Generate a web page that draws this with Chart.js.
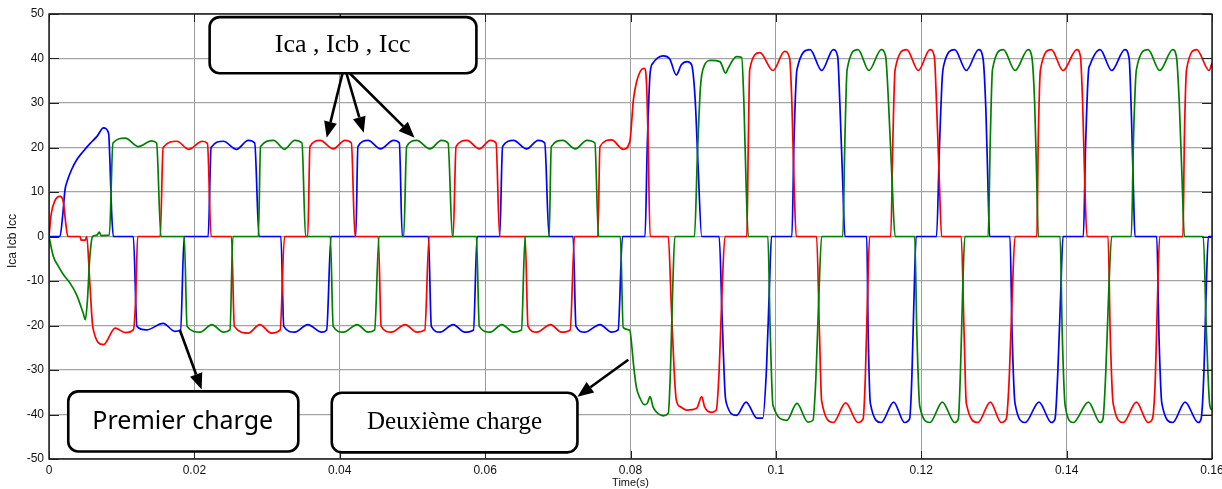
<!DOCTYPE html>
<html>
<head>
<meta charset="utf-8">
<script src="https://cdn.jsdelivr.net/npm/chart.js@4/dist/chart.umd.min.js"></script>
<style>
  html, body { margin: 0; padding: 0; background: #fff; }
  #wrap { width: 1222px; height: 489px; }
</style>
</head>
<body>
<div id="wrap"><canvas id="courants" width="1222" height="489"></canvas></div>
<script>
// temps en ms, courant en A
const tickX = [0, 20, 40, 60, 80, 100, 120, 140, 160];
const tickY = [-50, -40, -30, -20, -10, 0, 10, 20, 30, 40, 50];

// phase rouge
const ica = [
  [0,0],[0.3,5],[0.8,8],[1.5,9],[2.0,7.5],[2.3,3],[2.6,0],[4.3,0],[4.4,-0.8],[5.0,-0.8],[5.2,0],[5.6,-10],[6.05,-20.6],[7.5,-24.3],[9.1,-20.6],[10.5,-21.6],[11.6,-21],[11.9,-15],[12.2,0],
  [15.3,0],[15.7,20],[17.6,21.4],[19.2,19.6],[21.1,21.4],[21.8,20.9],[22.3,0],
  [25.1,0],[25.5,-20.2],[27.4,-21.7],[29.0,-19.8],[30.6,-21.7],[31.8,-21],[32.4,0],
  [35.6,0],[35.9,20.2],[37.3,21.6],[39.1,19.7],[40.7,21.6],[41.6,21],[42.1,0],
  [45.3,0],[45.7,-20.2],[47.1,-21.5],[49.0,-19.8],[50.6,-21.5],[51.7,-21],[52.3,0],
  [55.6,0],[56.0,20.2],[57.5,21.6],[59.2,19.7],[60.7,21.6],[61.5,21],[62.0,0],
  [65.5,0],[65.9,-20.2],[67.1,-21.5],[69.0,-19.8],[70.5,-21.5],[71.7,-21],[72.3,0],
  [75.5,0],[75.8,20.2],[77.4,21.7],[79.0,19.6],[79.9,21.3],[80.4,30.7],[80.8,34.5],[81.5,37.5],[81.9,37.8],[82.2,34.5],[82.4,23.3],[82.7,0],
  [85.2,0],[85.6,-15],[86.0,-30],[86.3,-36.7],[86.9,-38.3],[87.7,-39],[89.1,-38.6],[89.8,-36],[90.2,-38.3],[91.1,-39.5],[91.8,-39],[92.2,-30],[92.6,-12],[93.0,0],
  [96.0,0],[96.2,20],[96.4,37.5],[97.8,41.3],[99.6,37.3],[101.2,41.6],[101.9,40],[102.2,30],[102.5,12],[102.8,0],
  [105.6,0],[106.0,-22],[106.3,-37],[107.9,-41.8],[109.6,-37.4],[111.3,-41.8],[112.0,-41],[112.3,-32],[112.6,-14],[112.9,0],
  [115.8,0],[116.1,22],[116.4,37.5],[118.0,42],[119.6,37.3],[121.2,42],[121.8,40.5],[122.1,30],[122.5,12],[122.8,0],
  [125.5,0],[125.9,-22],[126.2,-37.5],[127.8,-41.8],[129.5,-37.2],[131.0,-41.8],[131.7,-41],[132.1,-32],[132.5,-14],[132.9,0],
  [135.9,0],[136.1,22],[136.4,37.5],[137.9,42],[139.5,37.3],[141.4,42],[141.9,40.5],[142.2,30],[142.5,12],[142.8,0],
  [145.7,0],[146.0,-22],[146.4,-37.5],[147.8,-41.8],[149.6,-37.2],[151.2,-41.8],[151.8,-41],[152.2,-32],[152.5,-14],[152.8,0],
  [156.0,0],[156.2,22],[156.5,37.5],[157.9,42],[159.6,37.3],[160,39]
];

// phase bleue
const icb = [
  [0,0],[1.5,0],[1.9,5],[2.2,10.5],[2.5,12.4],[3.1,15],[3.8,17.2],[4.7,19.1],[5.6,20.8],[6.6,22.5],[7.5,24.4],[8.2,23.2],[8.4,16],[8.6,6],[8.85,0],
  [11.6,0],[12.1,-20.2],[13.4,-21],[15.7,-19.5],[17.3,-21.3],[18.1,-21],[18.6,0],
  [21.9,0],[22.3,20],[24.0,21.4],[25.8,19.6],[27.4,21.6],[28.3,21],[28.9,0],
  [31.9,0],[32.3,-20.2],[33.8,-21.5],[35.6,-19.8],[37.5,-21.5],[38.2,-21],[38.8,0],
  [42.2,0],[42.5,20.2],[43.9,21.6],[45.6,19.7],[47.4,21.6],[48.2,21],[48.6,0],
  [52.2,0],[52.6,-20.2],[53.8,-21.5],[55.6,-19.8],[57.2,-21.5],[58.4,-21],[58.9,0],
  [62.0,0],[62.4,20.2],[63.9,21.6],[65.7,19.7],[67.3,21.6],[68.2,21],[68.8,0],
  [72.1,0],[72.5,-20.2],[73.7,-21.5],[75.8,-19.8],[77.4,-21.5],[78.3,-21],[78.9,0],
  [82.0,0],[82.3,20],[82.7,36.7],[83.1,39],[84.5,40.6],[85.4,39.9],[86.3,36.3],[87.0,38.6],[87.8,39.3],[88.4,38.6],[88.9,30.7],[89.3,15.7],[89.8,0],
  [92.2,0],[92.6,-18],[93.0,-35],[93.2,-37.5],[94.6,-40.2],[95.9,-37.2],[97.4,-40.8],[98.2,-40.8],[98.7,-30],[99.1,-12],[99.4,0],
  [102.2,0],[102.5,22],[102.9,37.5],[104.7,42],[106.3,37.3],[107.9,42],[108.5,40.5],[108.8,30],[109.2,12],[109.5,0],
  [112.5,0],[112.7,-22],[113.0,-37.5],[114.5,-41.8],[116.2,-37.2],[117.7,-41.8],[118.4,-41],[118.7,-32],[119.0,-14],[119.3,0],
  [122.1,0],[122.5,20],[122.9,36],[123.1,38.5],[124.6,42],[126.2,37.3],[127.9,42],[128.5,40],[128.9,28],[129.2,10],[129.4,0],
  [132.2,0],[132.5,-22],[132.9,-37.5],[134.3,-41.8],[136.2,-37.2],[137.9,-41.8],[138.4,-41],[138.8,-30],[139.2,-12],[139.5,0],
  [142.3,0],[142.6,20],[143.0,37],[143.2,38.5],[144.6,42],[146.2,37.3],[148.0,42],[148.6,40],[148.9,28],[149.2,10],[149.4,0],
  [152.4,0],[152.7,-22],[153.1,-37.5],[154.6,-41.8],[156.3,-37.2],[158.1,-41.8],[158.5,-41],[158.9,-30],[159.2,-12],[159.5,0],[160,0]
];

// phase verte
const icc = [
  [0,0],[0.6,-4.5],[1.3,-6.7],[2.0,-8.6],[2.9,-10.5],[3.8,-13.1],[4.7,-17.2],[5.0,-18.7],[5.3,-14],[5.6,-5],[6.0,0],[6.6,0.3],[6.9,1],[7.2,0.2],[8.3,0.3],
  [8.8,21],[10.5,22.1],[12.3,20.2],[14.1,21.5],[14.8,21],[15.4,0],
  [18.6,0],[19.0,-20.2],[20.8,-21.5],[22.4,-19.8],[24.0,-21.5],[24.9,-21],[25.3,0],
  [28.8,0],[29.1,20.2],[30.9,21.6],[32.4,19.6],[33.8,21.6],[34.8,21],[35.3,0],
  [38.7,0],[39.1,-20.2],[40.5,-21.5],[42.4,-19.8],[43.9,-21.5],[44.8,-21],[45.4,0],
  [48.8,0],[49.2,20.2],[50.6,21.6],[52.4,19.7],[54.0,21.6],[54.9,21],[55.5,0],
  [58.8,0],[59.2,-20.2],[60.7,-21.5],[62.3,-19.8],[63.9,-21.5],[65.0,-21],[65.5,0],
  [68.8,0],[69.1,20.2],[70.7,21.6],[72.4,19.7],[74.0,21.6],[75.1,21],[75.6,0],
  [78.6,0],[79.0,-20.5],[79.9,-21],[80.2,-25],[80.4,-28.5],[80.8,-33.8],[81.3,-36.3],[81.9,-37.8],[82.3,-37.5],[82.7,-36],[83.1,-38.3],[83.6,-39.5],[84.5,-40.3],[85.2,-39.7],[85.5,-30],[85.8,-12],[86.1,0],
  [88.8,0],[89.2,18],[89.6,33],[89.8,36.3],[90.2,38.6],[91.1,39.6],[92.3,39.3],[93.1,36.7],[93.4,37.7],[94.6,40.4],[95.3,40.2],[95.6,30],[95.9,12],[96.2,0],
  [98.9,0],[99.2,-20],[99.6,-37.9],[101.5,-41.3],[102.9,-37.5],[104.4,-41.7],[105.1,-41.3],[105.5,-32],[105.9,-14],[106.3,0],
  [109.2,0],[109.5,22],[109.8,37.5],[111.3,42],[112.8,37.3],[114.5,42],[115.1,40.5],[115.5,30],[116.0,12],[116.4,0],
  [119.1,0],[119.4,-22],[119.8,-38.2],[121.2,-41.8],[122.9,-37.2],[124.6,-41.8],[125.1,-41],[125.4,-30],[125.7,-12],[126.0,0],
  [129.2,0],[129.5,22],[129.8,37.5],[131.3,42],[132.9,37.3],[134.7,42],[135.2,40.5],[135.6,30],[135.9,12],[136.1,0],
  [139.1,0],[139.4,-22],[139.8,-38],[140.9,-41.8],[143.0,-37.2],[144.6,-41.8],[145.0,-41],[145.4,-30],[145.8,-12],[146.2,0],
  [148.9,0],[149.2,22],[149.6,37.5],[151.2,42],[152.8,37.3],[154.6,42],[155.1,40.5],[155.5,30],[155.9,12],[156.2,0],
  [158.8,0],[159.2,-20],[159.7,-38],[160,-39]
];

// encadrés et flèches (coordonnées en ms / A)
const notes = [
  { text: "Ica , Icb , Icc", font: "26px 'Liberation Serif'", box: [22.1, 49.3, 58.8, 36.7], at: [40.4, 43.0] },
  { text: "Premier charge", font: "25px 'Noto Sans'", box: [2.65, -34.8, 34.3, -48.3], at: [18.4, -41.6] },
  { text: "Deuxième charge", font: "25px 'Liberation Serif'", box: [38.9, -35.1, 72.7, -48.5], at: [55.8, -41.8] }
];
const arrows = [
  [40.4, 36.8, 38.2, 22.2],
  [40.9, 36.8, 43.3, 23.3],
  [41.3, 36.8, 50.3, 22.2],
  [18.0, -21.0, 21.0, -34.4],
  [79.7, -27.7, 72.7, -36.0]
];

const toXY = pts => pts.map(p => ({ x: p[0], y: p[1] }));

function roundBox(ctx, x0, y0, x1, y1, r) {
  ctx.beginPath();
  ctx.moveTo(x0 + r, y0);
  ctx.arcTo(x1, y0, x1, y1, r);
  ctx.arcTo(x1, y1, x0, y1, r);
  ctx.arcTo(x0, y1, x0, y0, r);
  ctx.arcTo(x0, y0, x1, y0, r);
  ctx.closePath();
}

const habillage = {
  id: "habillage",
  afterDraw(chart) {
    const ctx = chart.ctx;
    const a = chart.chartArea;
    const sx = chart.scales.x, sy = chart.scales.y;
    ctx.save();

    // cadre
    ctx.strokeStyle = "#000";
    ctx.lineWidth = 1.3;
    ctx.strokeRect(a.left, a.top, a.right - a.left, a.bottom - a.top);

    // graduations vers l'intérieur
    ctx.lineWidth = 1;
    ctx.strokeStyle = "#222";
    ctx.beginPath();
    tickX.forEach(v => {
      const px = Math.round(sx.getPixelForValue(v)) + 0.5;
      ctx.moveTo(px, a.top); ctx.lineTo(px, a.top + 8);
      ctx.moveTo(px, a.bottom); ctx.lineTo(px, a.bottom - 8);
    });
    tickY.forEach(v => {
      const py = Math.round(sy.getPixelForValue(v)) + 0.5;
      ctx.moveTo(a.left, py); ctx.lineTo(a.left + 10, py);
      ctx.moveTo(a.right, py); ctx.lineTo(a.right - 10, py);
    });
    ctx.stroke();

    // titres des axes
    ctx.fillStyle = "#111";
    ctx.font = "11px 'Liberation Sans'";
    ctx.textAlign = "center";
    ctx.textBaseline = "top";
    ctx.fillText("Time(s)", (a.left + a.right) / 2, 477);
    ctx.save();
    ctx.translate(12.5, 241);
    ctx.rotate(-Math.PI / 2);
    ctx.font = "12px 'Liberation Sans'";
    ctx.textBaseline = "middle";
    ctx.fillText("Ica Icb Icc", 0, 0);
    ctx.restore();

    // flèches
    ctx.strokeStyle = "#000";
    ctx.fillStyle = "#000";
    ctx.lineWidth = 2.6;
    arrows.forEach(f => {
      const x0 = sx.getPixelForValue(f[0]), y0 = sy.getPixelForValue(f[1]);
      const x1 = sx.getPixelForValue(f[2]), y1 = sy.getPixelForValue(f[3]);
      const ang = Math.atan2(y1 - y0, x1 - x0);
      const len = 16, half = 6.5;
      const bx = x1 - len * Math.cos(ang), by = y1 - len * Math.sin(ang);
      ctx.beginPath();
      ctx.moveTo(x0, y0);
      ctx.lineTo(bx, by);
      ctx.stroke();
      ctx.beginPath();
      ctx.moveTo(x1, y1);
      ctx.lineTo(bx + half * Math.sin(ang), by - half * Math.cos(ang));
      ctx.lineTo(bx - half * Math.sin(ang), by + half * Math.cos(ang));
      ctx.closePath();
      ctx.fill();
    });

    // encadrés
    notes.forEach(n => {
      const x0 = sx.getPixelForValue(n.box[0]), y0 = sy.getPixelForValue(n.box[1]);
      const x1 = sx.getPixelForValue(n.box[2]), y1 = sy.getPixelForValue(n.box[3]);
      roundBox(ctx, x0, y0, x1, y1, 10);
      ctx.fillStyle = "#fff";
      ctx.fill();
      ctx.lineWidth = 2.6;
      ctx.strokeStyle = "#000";
      ctx.stroke();
      ctx.fillStyle = "#000";
      ctx.font = n.font;
      ctx.textAlign = "center";
      ctx.textBaseline = "middle";
      ctx.fillText(n.text, sx.getPixelForValue(n.at[0]), sy.getPixelForValue(n.at[1]));
    });

    ctx.restore();
  }
};

const serie = (data, color) => ({
  data: toXY(data),
  borderColor: color,
  borderWidth: 1.7,
  pointRadius: 0,
  fill: false,
  cubicInterpolationMode: "monotone"
});

new Chart(document.getElementById("courants"), {
  type: "line",
  data: {
    datasets: [
      serie(icc, "#008000"),
      serie(ica, "#ff0000"),
      serie(icb, "#0000ff")
    ]
  },
  options: {
    responsive: false,
    animation: false,
    events: [],
    layout: { padding: { left: 0, right: 10, top: 14, bottom: 0 } },
    plugins: { legend: { display: false }, tooltip: { enabled: false } },
    scales: {
      x: {
        type: "linear",
        min: 0,
        max: 160,
        afterBuildTicks: s => { s.ticks = tickX.map(v => ({ value: v })); },
        afterFit: s => { s.height = 30; s.paddingLeft = 0; s.paddingRight = 0; },
        grid: { color: "#9c9c9c", lineWidth: 1, drawTicks: false },
        border: { display: false },
        ticks: {
          padding: 4,
          color: "#111",
          font: { family: "'Liberation Sans'", size: 12 },
          maxRotation: 0,
          autoSkip: false,
          callback: v => v === 0 ? "0" : String(v / 1000)
        }
      },
      y: {
        min: -50,
        max: 50,
        afterBuildTicks: s => { s.ticks = tickY.map(v => ({ value: v })); },
        afterFit: s => { s.width = 49; s.paddingTop = 0; s.paddingBottom = 0; },
        grid: { color: "#a4a4a4", lineWidth: 1.3, drawTicks: false },
        border: { display: false },
        ticks: {
          padding: 5,
          color: "#111",
          font: { family: "'Liberation Sans'", size: 12 },
          autoSkip: false
        }
      }
    }
  },
  plugins: [habillage]
});
</script>
</body>
</html>
